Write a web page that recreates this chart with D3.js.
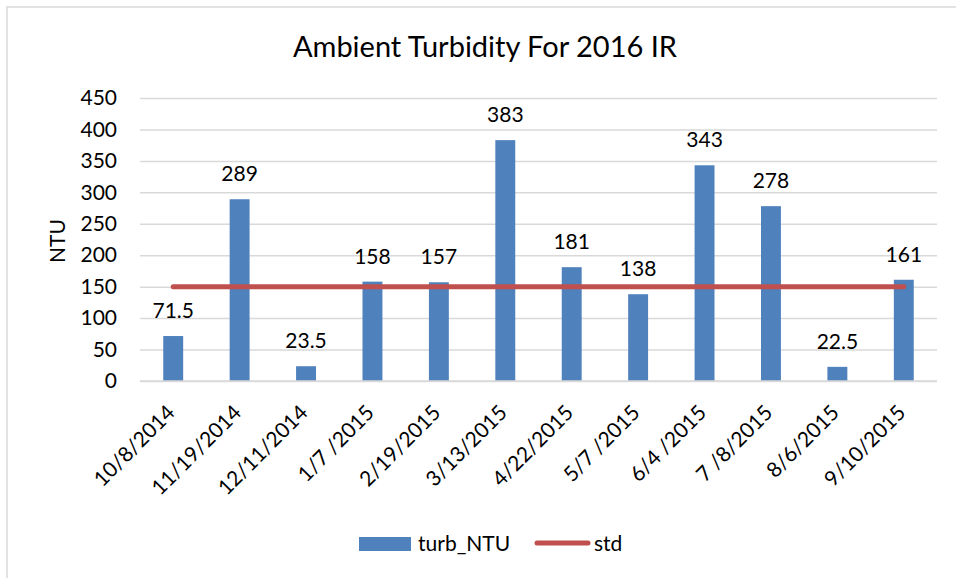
<!DOCTYPE html>
<html><head><meta charset="utf-8">
<script src="https://cdn.jsdelivr.net/npm/d3@7"></script>
<style>
body{margin:0;background:#fff;}
text{font-family:Lato,"Open Sans",sans-serif;fill:#000;}
</style></head>
<body><svg id="c" width="956" height="578"></svg>
<script>
const categories=["10/8/2014","11/19/2014","12/11/2014","1/7 /2015","2/19/2015","3/13/2015","4/22/2015","5/7 /2015","6/4 /2015","7 /8/2015","8/6/2015","9/10/2015"];
const turbValues=[71.5,289,23.5,158,157,383,181,138,343,278,22.5,161];
const stdValues=[150,150,150,150,150,150,150,150,150,150,150,150];
const yTicks=[0,50,100,150,200,250,300,350,400,450];
const seriesNames=["turb_NTU","std"];

const FS="21px";
const svg=d3.select("#c");
svg.append("rect").attr("x",7).attr("y",7).attr("width",960).attr("height",580)
  .attr("fill","#fff").attr("stroke","#d9d9d9").attr("stroke-width",1.5);

const x=d3.scaleBand().domain(categories).range([140,937]).paddingInner(0.7).paddingOuter(0.35);
const y=d3.scaleLinear().domain([0,450]).range([381,98]);

svg.append("text").attr("x",485).attr("y",57).attr("text-anchor","middle")
  .style("font-size","29px").text("Ambient Turbidity For 2016 IR");

const yAxis=d3.axisLeft(y).tickValues(yTicks).tickSize(-(937-140)).tickPadding(23);
const ga=svg.append("g").attr("transform","translate(140,0)").call(yAxis);
ga.select(".domain").remove();
ga.selectAll(".tick line").attr("stroke","#d9d9d9").attr("stroke-width",1.5);
ga.selectAll(".tick text").style("font-size",FS).attr("fill","#000");

svg.append("text").attr("transform","translate(65,241) rotate(-90)").attr("text-anchor","middle")
  .style("font-size",FS).text("NTU");

svg.append("g").selectAll("rect").data(turbValues).join("rect")
  .attr("x",(d,i)=>x(categories[i])).attr("width",x.bandwidth())
  .attr("y",d=>y(d)).attr("height",d=>y(0)-y(d)).attr("fill","#4f81bd");

const line=d3.line().x((d,i)=>x(categories[i])+x.bandwidth()/2).y(d=>y(d));
svg.append("path").attr("d",line(stdValues)).attr("fill","none").attr("stroke","#c0504d")
  .attr("stroke-width",5).attr("stroke-linecap","round");

svg.append("g").selectAll("text").data(turbValues).join("text")
  .attr("x",(d,i)=>x(categories[i])+x.bandwidth()/2).attr("y",d=>y(d)-18)
  .attr("text-anchor","middle").style("font-size",FS).text(d=>d);

const xAxis=d3.axisBottom(x).tickSize(0);
const gx=svg.append("g").attr("transform","translate(0,381)").call(xAxis);
gx.select(".domain").attr("stroke","#d9d9d9").attr("stroke-width",1.5).attr("d","M140,0H937");
gx.selectAll(".tick text").style("font-size",FS).attr("fill","#000")
  .attr("text-anchor","end").attr("y",0).attr("dy","0")
  .attr("transform","translate(3,33) rotate(-45)");

const lg=svg.append("g");
lg.append("rect").attr("x",359).attr("y",537).attr("width",52).attr("height",14).attr("fill","#4f81bd");
lg.append("text").attr("x",418).attr("y",551).style("font-size",FS).text(seriesNames[0]);
lg.append("line").attr("x1",537).attr("x2",588).attr("y1",543).attr("y2",543)
  .attr("stroke","#c0504d").attr("stroke-width",5).attr("stroke-linecap","round");
lg.append("text").attr("x",594).attr("y",551).style("font-size",FS).text(seriesNames[1]);
</script></body></html>
